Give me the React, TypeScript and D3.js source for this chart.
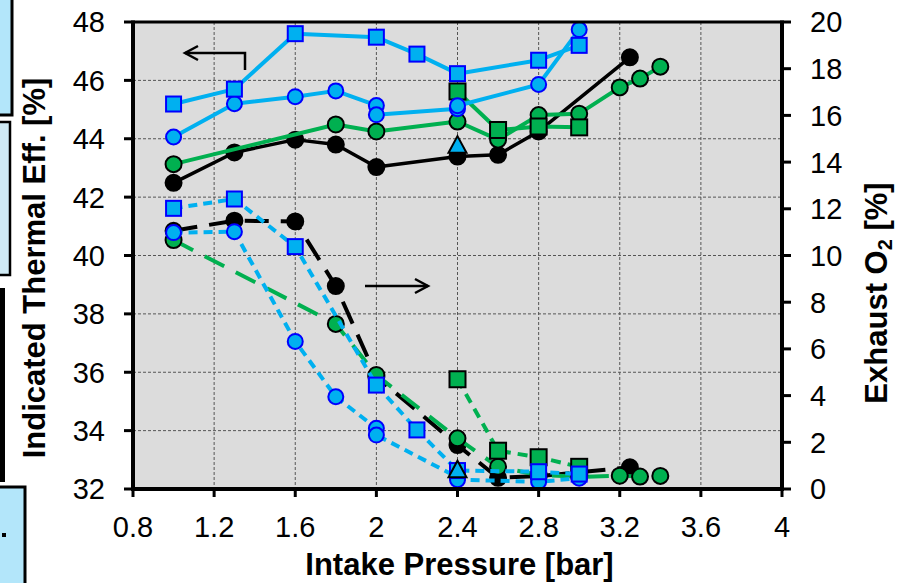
import React from "react";
import * as d3 from "d3";

// ---------- data ----------
const xTicks = [0.8, 1.2, 1.6, 2, 2.4, 2.8, 3.2, 3.6, 4];
const effTicks = [32, 34, 36, 38, 40, 42, 44, 46, 48];
const o2Ticks = [0, 2, 4, 6, 8, 10, 12, 14, 16, 18, 20];

// Indicated thermal efficiency [%] (left axis, solid lines)
const blackEffX = [1.0, 1.3, 1.6, 1.8, 2.0, 2.4, 2.6, 2.8, 3.25];
const blackEffY = [42.49, 43.53, 43.97, 43.8, 43.03, 43.39, 43.45, 44.25, 46.79];
const greenCircEffX = [1.0, 1.8, 2.0, 2.4, 2.6, 2.8, 3.0, 3.2, 3.3, 3.4];
const greenCircEffY = [43.13, 44.49, 44.25, 44.59, 43.97, 44.81, 44.86, 45.76, 46.06, 46.47];
const greenSqEffX = [2.4, 2.6, 2.8, 3.0];
const greenSqEffY = [45.62, 44.3, 44.42, 44.39];
const blueCircEffX = [1.0, 1.3, 1.6, 1.8, 2.0, 2.0, 2.4, 2.4, 2.8, 3.0];
const blueCircEffY = [44.06, 45.2, 45.44, 45.64, 45.14, 44.82, 45.03, 45.13, 45.86, 47.74];
const blueSqEffX = [1.0, 1.3, 1.6, 2.0, 2.2, 2.4, 2.8, 3.0];
const blueSqEffY = [45.19, 45.7, 47.6, 47.48, 46.9, 46.23, 46.69, 47.2];
const triEffX = [2.4];
const triEffY = [43.75];

// Exhaust O2 [%] (right axis, dashed lines)
const blackO2X = [1.0, 1.3, 1.6, 1.8, 2.0, 2.4, 2.6, 2.8, 3.25];
const blackO2Y = [11.06, 11.49, 11.46, 8.69, 4.81, 1.88, 0.48, 0.55, 0.93];
const greenCircO2X = [1.0, 1.8, 2.0, 2.4, 2.6, 2.8, 3.0, 3.2, 3.3, 3.4];
const greenCircO2Y = [10.66, 7.07, 4.88, 2.17, 0.95, 0.6, 0.52, 0.57, 0.53, 0.56];
const greenSqO2X = [2.4, 2.6, 2.8, 3.0];
const greenSqO2Y = [4.7, 1.64, 1.36, 0.95];
const blueCircO2X = [1.0, 1.3, 1.6, 1.8, 2.0, 2.0, 2.4, 2.4, 2.8, 3.0];
const blueCircO2Y = [10.98, 11.02, 6.32, 3.95, 2.6, 2.31, 0.5, 0.4, 0.31, 0.46];
const blueSqO2X = [1.0, 1.3, 1.6, 2.0, 2.2, 2.4, 2.8, 3.0];
const blueSqO2Y = [12.02, 12.42, 10.38, 4.45, 2.53, 0.79, 0.74, 0.64];
const triO2X = [2.4];
const triO2Y = [0.79];

// ---------- styles ----------
const FONT = '"Liberation Sans", Arial, sans-serif';
const LBLUE = "#00B0F0";
const BLUE = "#0000FF";
const GREEN = "#00B050";

const W = 898, H = 583;
const L = 133, R = 782, T = 22, B = 489;

type Marker = "circle" | "square" | "triangle";
interface Series {
  xs: number[]; ys: number[]; axis: "eff" | "o2";
  line: string; lineW: number; dash?: string;
  marker: Marker; fill: string; stroke: string; size: number;
}

export default function App() {
  const x = d3.scaleLinear().domain([0.8, 4]).range([L, R]);
  const yEff = d3.scaleLinear().domain([32, 48]).range([B, T]);
  const yO2 = d3.scaleLinear().domain([0, 20]).range([B, T]);

  const series: Series[] = [
    { xs: blackEffX, ys: blackEffY, axis: "eff", line: "#000", lineW: 3.5, marker: "circle", fill: "#000", stroke: "#000", size: 8 },
    { xs: greenCircEffX, ys: greenCircEffY, axis: "eff", line: GREEN, lineW: 4, marker: "circle", fill: GREEN, stroke: "#000", size: 8 },
    { xs: greenSqEffX, ys: greenSqEffY, axis: "eff", line: GREEN, lineW: 4, marker: "square", fill: GREEN, stroke: "#000", size: 8 },
    { xs: blueCircEffX, ys: blueCircEffY, axis: "eff", line: LBLUE, lineW: 4, marker: "circle", fill: LBLUE, stroke: BLUE, size: 7.5 },
    { xs: blueSqEffX, ys: blueSqEffY, axis: "eff", line: LBLUE, lineW: 4, marker: "square", fill: LBLUE, stroke: BLUE, size: 7.5 },
    { xs: triEffX, ys: triEffY, axis: "eff", line: LBLUE, lineW: 4, marker: "triangle", fill: LBLUE, stroke: "#000", size: 9 },
    { xs: blackO2X, ys: blackO2Y, axis: "o2", line: "#000", lineW: 4, dash: "24 12", marker: "circle", fill: "#000", stroke: "#000", size: 8 },
    { xs: greenCircO2X, ys: greenCircO2Y, axis: "o2", line: GREEN, lineW: 4, dash: "22 13", marker: "circle", fill: GREEN, stroke: "#000", size: 8 },
    { xs: greenSqO2X, ys: greenSqO2Y, axis: "o2", line: GREEN, lineW: 4, dash: "10 7", marker: "square", fill: GREEN, stroke: "#000", size: 8 },
    { xs: blueCircO2X, ys: blueCircO2Y, axis: "o2", line: LBLUE, lineW: 4, dash: "9 6", marker: "circle", fill: LBLUE, stroke: BLUE, size: 7.5 },
    { xs: blueSqO2X, ys: blueSqO2Y, axis: "o2", line: LBLUE, lineW: 4, dash: "9 6", marker: "square", fill: LBLUE, stroke: BLUE, size: 7.5 },
    { xs: triO2X, ys: triO2Y, axis: "o2", line: LBLUE, lineW: 4, marker: "triangle", fill: LBLUE, stroke: "#000", size: 9 },
  ];

  const gen = d3.line<number[]>().x((d) => d[0]).y((d) => d[1]);

  const renderMarker = (m: Marker, cx: number, cy: number, s: Series, k: string) => {
    if (m === "circle")
      return <circle key={k} cx={cx} cy={cy} r={s.size} fill={s.fill} stroke={s.stroke} strokeWidth={2} />;
    if (m === "square")
      return <rect key={k} x={cx - s.size} y={cy - s.size} width={s.size * 2} height={s.size * 2} fill={s.fill} stroke={s.stroke} strokeWidth={2} />;
    const r = s.size;
    const pts = `${cx},${cy - r * 1.1} ${cx + r},${cy + r * 0.75} ${cx - r},${cy + r * 0.75}`;
    return <polygon key={k} points={pts} fill={s.fill} stroke={s.stroke} strokeWidth={2} />;
  };

  return (
    <svg width={W} height={H} style={{ position: "absolute", left: 0, top: 0, background: "#fff" }} fontFamily={FONT}>
      <defs>
        <clipPath id="plotClip">
          <rect x={L} y={T} width={R - L} height={B - T} />
        </clipPath>
      </defs>

      {/* cropped side boxes at left edge */}
      <rect x={-3} y={-3} width={15} height={118} fill="#B3E6FA" stroke="#000" strokeWidth={3} />
      <rect x={-3} y={122} width={13} height={153} fill="#CFEAF5" stroke="#000" strokeWidth={2.5} />
      <rect x={0} y={288} width={5} height={194} fill="#000" />
      <rect x={-3} y={487} width={28} height={100} fill="#B3E6FA" stroke="#000" strokeWidth={3} />
      <rect x={2} y={533} width={4} height={4} fill="#000" />

      {/* plot background */}
      <rect x={L} y={T} width={R - L} height={B - T} fill="#DCDCDC" />

      {/* grid */}
      <g stroke="#555" strokeWidth={1} strokeDasharray="3 2">
        {xTicks.slice(1, -1).map((t) => (
          <line key={"gx" + t} x1={x(t)} x2={x(t)} y1={T} y2={B} />
        ))}
        {effTicks.slice(1, -1).map((t) => (
          <line key={"gy" + t} x1={L} x2={R} y1={yEff(t)} y2={yEff(t)} />
        ))}
      </g>

      {/* series */}
      <g clipPath="url(#plotClip)">
        {series.map((s, i) => {
          const ys = s.axis === "eff" ? yEff : yO2;
          const pts = s.xs.map((v, j) => [x(v), ys(s.ys[j])]);
          return (
            <g key={"s" + i}>
              {pts.length > 1 && (
                <path d={gen(pts) || ""} fill="none" stroke={s.line} strokeWidth={s.lineW} strokeDasharray={s.dash} strokeLinejoin="round" />
              )}
              {pts.map((p, j) => renderMarker(s.marker, p[0], p[1], s, `m${i}-${j}`))}
            </g>
          );
        })}
      </g>

      {/* frame */}
      <line x1={L} x2={R} y1={T} y2={T} stroke="#000" strokeWidth={3} />
      <line x1={L} x2={R + 2} y1={B} y2={B} stroke="#000" strokeWidth={4} />
      <line x1={L} x2={L} y1={T - 1.5} y2={B + 2} stroke="#000" strokeWidth={4} />
      <line x1={R} x2={R} y1={T - 1.5} y2={B + 2} stroke="#000" strokeWidth={4} />

      {/* x ticks */}
      {xTicks.map((t) => (
        <g key={"xt" + t}>
          <line x1={x(t)} x2={x(t)} y1={B} y2={B + 8} stroke="#000" strokeWidth={3} />
          <text x={x(t)} y={537} fontSize={29} textAnchor="middle" fill="#000">{t}</text>
        </g>
      ))}
      {/* left ticks */}
      {effTicks.map((t) => (
        <g key={"yl" + t}>
          <line x1={L - 9} x2={L} y1={yEff(t)} y2={yEff(t)} stroke="#000" strokeWidth={3} />
          <text x={105} y={yEff(t)} dy="0.36em" fontSize={29} textAnchor="end" fill="#000">{t}</text>
        </g>
      ))}
      {/* right ticks */}
      {o2Ticks.map((t) => (
        <g key={"yr" + t}>
          <line x1={R} x2={R + 9} y1={yO2(t)} y2={yO2(t)} stroke="#000" strokeWidth={3} />
          <text x={810} y={yO2(t)} dy="0.36em" fontSize={29} textAnchor="start" fill="#000">{t}</text>
        </g>
      ))}

      {/* axis titles */}
      <text transform="translate(45,268) rotate(-90)" fontSize={31} fontWeight="bold" textAnchor="middle" fill="#000">
        Indicated Thermal Eff. [%]
      </text>
      <text transform="translate(887,293) rotate(-90)" fontSize={31} fontWeight="bold" textAnchor="middle" fill="#000">
        Exhaust O<tspan fontSize={20} dy="5">2</tspan><tspan dy="-5"> [%]</tspan>
      </text>
      <text x={(L + R) / 2 + 2} y={575} fontSize={31} fontWeight="bold" textAnchor="middle" fill="#000">
        Intake Pressure [bar]
      </text>

      {/* arrows */}
      <g stroke="#000" strokeWidth={2.5} fill="none" strokeLinejoin="miter">
        <polyline points="245,70 245,53 185,53" />
        <polyline points="198,46 185,53 198,60" />
        <line x1={365} y1={286} x2={428} y2={286} />
        <polyline points="415,279 428,286 415,293" />
      </g>
    </svg>
  );
}
